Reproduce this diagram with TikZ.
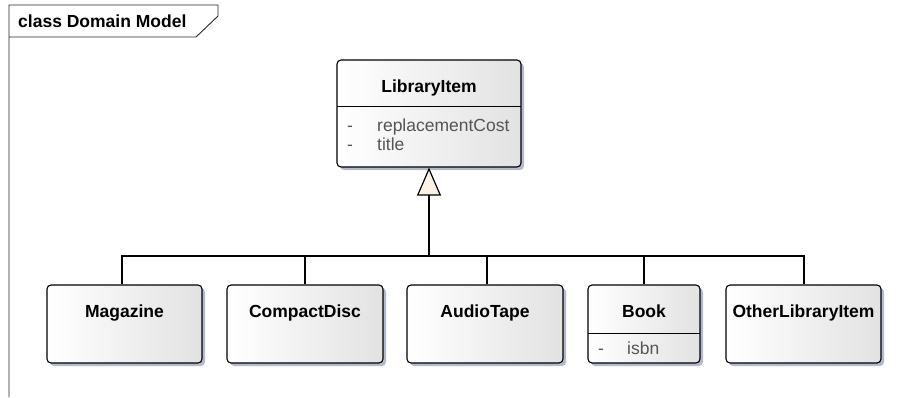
\documentclass[tikz,border=0pt]{standalone}
\usepackage{fontspec}
\setmainfont{Liberation Sans}
\usetikzlibrary{arrows.meta,shadows}

\definecolor{shadowc}{RGB}{180,186,206}
\definecolor{boxgray}{RGB}{226,226,226}
\definecolor{attrc}{RGB}{85,85,85}
\definecolor{genfill}{RGB}{251,243,230}
\definecolor{framec}{RGB}{40,40,40}

\tikzset{
  classbox/.style={draw=black, line width=1.1pt, rounded corners=4pt,
    left color=white, right color=boxgray, inner sep=0pt,
    general shadow={shadow xshift=3pt, shadow yshift=-3pt, fill=shadowc}},
  ctitle/.style={font=\fontsize{17.5}{20}\selectfont\bfseries, anchor=base, inner sep=0pt},
  cattr/.style={font=\fontsize{17.5}{20}\selectfont, text=attrc, anchor=base west, inner sep=0pt},
  divider/.style={draw=black, line width=0.9pt},
  link/.style={draw=black, line width=1.2pt},
  gen/.style={link, -{Triangle[length=28pt, width=24pt, fill=genfill]}},
  framefig/.style={draw=framec, line width=0.9pt}
}

\begin{document}
\begin{tikzpicture}[x=1pt, y=-1pt]
  \useasboundingbox (0,0) rectangle (906,397);

  % diagram frame with its name tab
  \draw[framefig] (9,397) -- (9,5) -- (218,5) -- (218,16) -- (196,37) -- (9,37);
  \node[anchor=base west, inner sep=0pt, font=\fontsize{17.5}{20}\selectfont\bfseries]
    (frametitle) at (18,27) {class Domain Model};

  % superclass
  \node[classbox, minimum width=184pt, minimum height=107pt] (lib) at (429,113.5) {};
  \node[ctitle] (libT) at (429,92) {LibraryItem};
  \draw[divider] (337,106) -- (521,106);
  \node[cattr] (libD1) at (347,131) {-};
  \node[cattr] (libA1) at (377,131) {replacementCost};
  \node[cattr] (libD2) at (347,150) {-};
  \node[cattr] (libA2) at (377,150) {title};

  % subclasses
  \node[classbox, minimum width=155pt, minimum height=78pt] (mag) at (124.5,324) {};
  \node[ctitle] (magT) at (124.5,317) {Magazine};

  \node[classbox, minimum width=156pt, minimum height=78pt] (cd) at (305,324) {};
  \node[ctitle] (cdT) at (305,317) {CompactDisc};

  \node[classbox, minimum width=156pt, minimum height=78pt] (tape) at (485,324) {};
  \node[ctitle] (tapeT) at (485,317) {AudioTape};

  \node[classbox, minimum width=112pt, minimum height=78pt] (book) at (644,324) {};
  \node[ctitle] (bookT) at (644,317) {Book};
  \draw[divider] (588,333) -- (700,333);
  \node[cattr] (bookD1) at (598,354) {-};
  \node[cattr] (bookA1) at (627,354) {isbn};

  \node[classbox, minimum width=155pt, minimum height=78pt] (other) at (803.5,324) {};
  \node[ctitle] (otherT) at (803.5,317) {OtherLibraryItem};

  % generalization tree
  \coordinate (hub) at (429,256);
  \draw[gen] (hub) -- (lib.south);
  \draw[link] ([xshift=-2.5pt]mag.north) |- (hub);
  \draw[link] (cd.north) |- (hub);
  \draw[link] ([xshift=2pt]tape.north) |- (hub);
  \draw[link] (book.north) |- (hub);
  \draw[link] ([xshift=0.5pt]other.north) |- (hub);
\end{tikzpicture}
\end{document}
